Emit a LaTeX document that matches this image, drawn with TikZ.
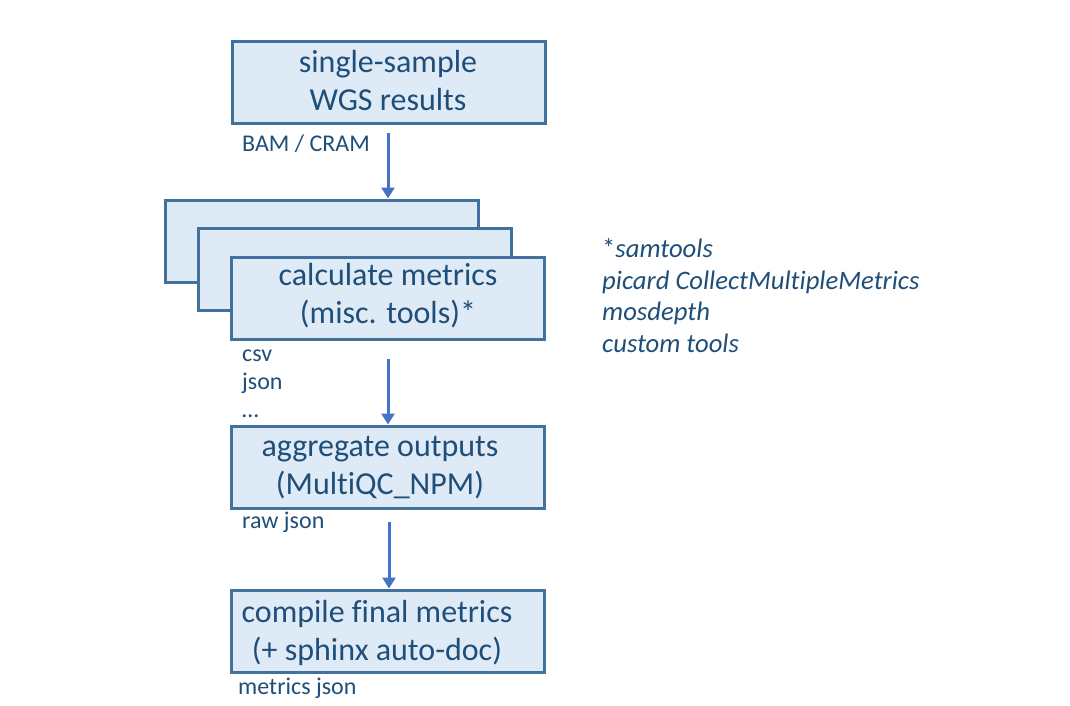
\documentclass[tikz,border=0pt]{standalone}
\usepackage{fontspec}
\setmainfont{Carlito}[Ligatures=NoCommon]
\usetikzlibrary{arrows.meta}
\definecolor{boxline}{HTML}{41719C}
\definecolor{boxfill}{HTML}{DEEBF7}
\definecolor{txt}{HTML}{1F4E79}
\definecolor{arr}{HTML}{4472C4}
\tikzset{
  stepbox/.style={draw=boxline, fill=boxfill, line width=3pt, minimum width=313pt, minimum height=82pt, inner sep=0pt},
  boxtext/.style={text=txt, font=\fontsize{32}{38}\selectfont, align=center, inner sep=0pt, anchor=base},
  lbl/.style={text=txt, font=\fontsize{24}{28}\selectfont, align=left, anchor=base west, inner sep=0pt},
  side/.style={text=txt, font=\fontsize{26.67}{31.5}\selectfont\itshape, align=left, anchor=base west, inner sep=0pt},
  flow/.style={draw=arr, line width=3pt, -{Triangle[width=13pt,length=11pt]}},
}
\begin{document}
\begin{tikzpicture}[x=1pt,y=-1pt]
\useasboundingbox (0,0) rectangle (1070,705);
\node[stepbox] (b1) at (388.5,82.5) {};
\node[boxtext] (t1) at (388,110) {single-sample\\WGS results};
\node[lbl] (l1) at (242,151) {BAM / CRAM};

\node[stepbox] (b2c) at (322,241) {};
\node[stepbox] (b2b) at (355,269.5) {};
\node[stepbox] (b2) at (388,298.5) {};
\node[boxtext] (t2) at (388,323) {calculate metrics\\(misc. tools)*};
\node[lbl] (l2) at (242,417) {csv\\json\\\dots};

\node[stepbox] (b3) at (388,467) {};
\node[boxtext] (t3) at (380,494) {aggregate outputs\\(MultiQC\_NPM)};
\node[lbl] (l3) at (242,528) {raw json};

\node[stepbox] (b4) at (388,631) {};
\node[boxtext] (t4) at (377,660) {compile final metrics\\(+ sphinx auto-doc)};
\node[lbl] (l4) at (238,694) {metrics json};

\node[side] (s1) at (602,352) {\textup{*}samtools\\picard CollectMultipleMetrics\\mosdepth\\custom tools};

\coordinate (a1s) at (388,133);
\coordinate (a2s) at (388,359);
\coordinate (a3s) at (389,522);
\draw[flow] (a1s) -- (b2c.north -| a1s);
\draw[flow] (a2s) -- (b3.north -| a2s);
\draw[flow] (a3s) -- (b4.north -| a3s);
\end{tikzpicture}
\end{document}
